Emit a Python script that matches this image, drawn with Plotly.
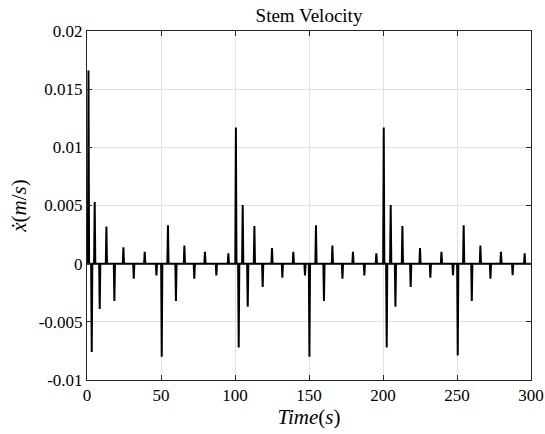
import plotly.graph_objects as go

# Spike events: time (s) and peak velocity (m/s)
spike_times = [1.0, 3.2, 5.2, 8.6, 13.1, 18.5, 24.6, 31.6, 39.0, 46.9,
               50.5, 54.7, 60.1, 65.8, 72.5, 79.7, 87.4, 95.5,
               100.6, 102.5, 105.2, 108.6, 113.1, 118.7, 125.0, 132.0, 139.4, 147.3,
               150.3, 154.7, 160.1, 165.8, 172.6, 179.7, 187.4, 195.5,
               200.5, 202.5, 205.2, 208.4, 213.1, 218.7, 225.0, 232.0, 239.5, 247.3,
               250.5, 254.5, 260.0, 265.8, 272.6, 279.7, 287.6, 295.7]
spike_values = [0.0166, -0.0076, 0.0053, -0.0039, 0.0032, -0.0032, 0.0014, -0.0013, 0.00103, -0.00101,
                -0.0080, 0.0033, -0.0032, 0.00155, -0.0013, 0.00103, -0.00101, 0.00089,
                0.0117, -0.0072, 0.00505, -0.0037, 0.00324, -0.0020, 0.00135, -0.0012, 0.00102, -0.00101,
                -0.0080, 0.0033, -0.0032, 0.00155, -0.0013, 0.00103, -0.00102, 0.00089,
                0.0117, -0.0072, 0.00505, -0.0037, 0.00324, -0.0020, 0.00135, -0.0012, 0.00103, -0.0010,
                -0.0079, 0.0033, -0.0032, 0.00155, -0.0013, 0.00103, -0.0010, 0.00089]

x_ticks = [0, 50, 100, 150, 200, 250, 300]
y_ticks = [-0.01, -0.005, 0, 0.005, 0.01, 0.015, 0.02]
y_tick_labels = ["-0.01", "-0.005", "0", "0.005", "0.01", "0.015", "0.02"]

half_width = 0.4
xs, ys = [0.0], [0.0]
for t, v in zip(spike_times, spike_values):
    xs += [max(t - half_width, 0.0), t, t + half_width]
    ys += [0.0, v, 0.0]
xs.append(300.0)
ys.append(0.0)

font_family = "Liberation Serif, DejaVu Serif, serif"
axis_col = "#262626"

fig = go.Figure()
fig.add_trace(go.Scatter(x=xs, y=ys, mode="lines",
                         line=dict(color="black", width=2), showlegend=False))

fig.update_layout(
    width=545, height=434,
    margin=dict(l=87, r=14, t=31, b=54),
    paper_bgcolor="white", plot_bgcolor="white",
    font=dict(family=font_family, size=17, color="black"),
    title=dict(text="Stem Velocity", x=0.5, xanchor="center", xref="paper",
               y=1 - 15 / 434, yanchor="middle", font=dict(size=19, color="black")),
)
fig.update_xaxes(
    range=[0, 300], tickvals=x_ticks, ticktext=[str(v) for v in x_ticks],
    showgrid=True, gridcolor="#e1e1e1", gridwidth=1, zeroline=False,
    showline=True, linecolor=axis_col, linewidth=1, mirror="allticks",
    ticks="inside", ticklen=5, tickcolor=axis_col, automargin=False,
    tickfont=dict(size=17),
    title=dict(text="<i>Time</i>(<i>s</i>)", font=dict(size=21, color="black"), standoff=2),
)
fig.update_yaxes(
    range=[-0.01, 0.02], tickvals=y_ticks, ticktext=y_tick_labels,
    showgrid=True, gridcolor="#e1e1e1", gridwidth=1, zeroline=False,
    showline=True, linecolor=axis_col, linewidth=1, mirror="allticks",
    ticks="inside", ticklen=5, tickcolor=axis_col, automargin=False,
    tickfont=dict(size=17),
    title=dict(text="<i>ẋ</i>(<i>m</i>/<i>s</i>)", font=dict(size=21, color="black"), standoff=6),
)

fig.write_html("out.html")
